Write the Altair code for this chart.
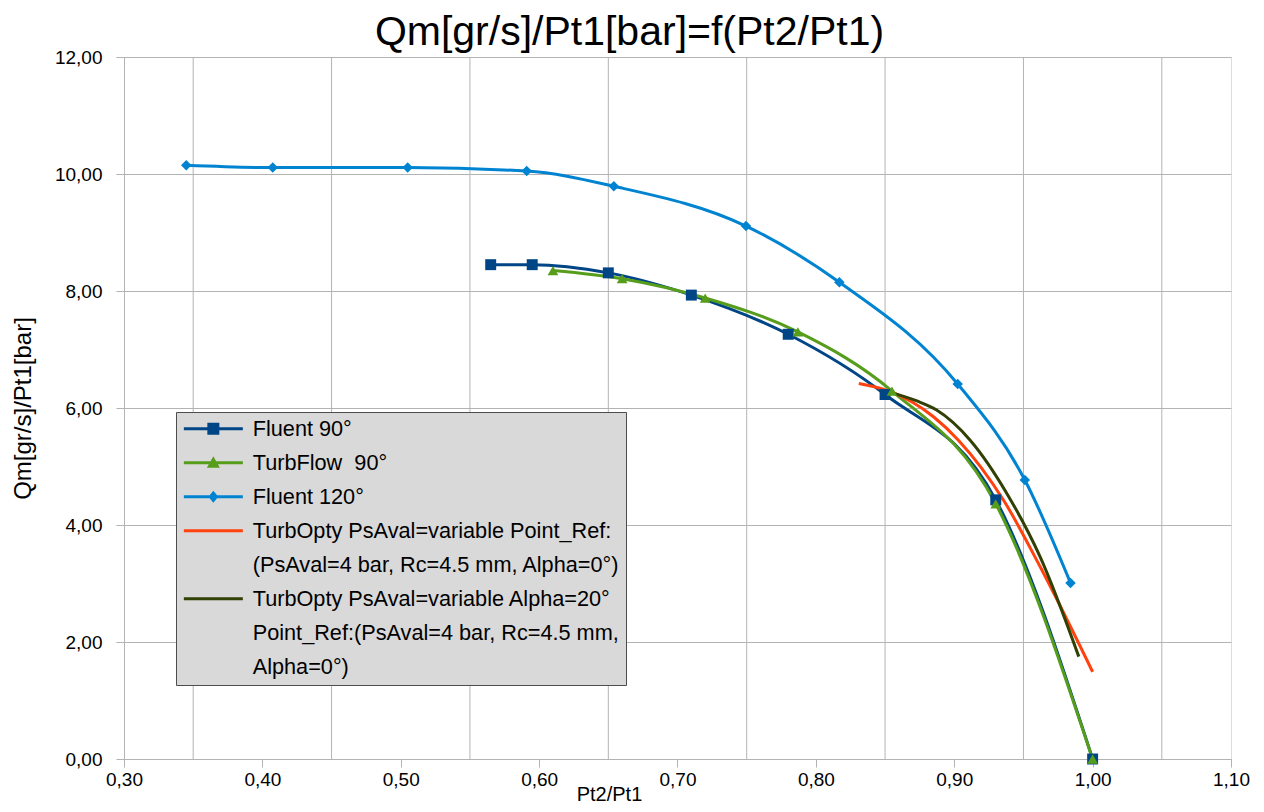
import altair as alt
import pandas as pd

FONT = "Liberation Sans"

# ---- series names (legend text) ----
S1 = "Fluent 90°"
S2 = "TurbFlow\u00a0 90°"
S3 = "Fluent 120°"
S4 = "TurbOpty PsAval=variable Point_Ref:"
S4b = "(PsAval=4 bar, Rc=4.5 mm, Alpha=0°)"
S5 = "TurbOpty PsAval=variable Alpha=20°"
S5b = "Point_Ref:(PsAval=4 bar, Rc=4.5 mm,"
S5c = "Alpha=0°)"

# ---- data ----
fluent90_x = [0.565, 0.595, 0.650, 0.710, 0.780, 0.850, 0.930, 1.000]
fluent90_y = [8.45, 8.45, 8.31, 7.93, 7.26, 6.23, 4.43, 0.00]

turbflow90_x = [0.610, 0.660, 0.720, 0.787, 0.855, 0.930, 1.000]
turbflow90_y = [8.35, 8.21, 7.88, 7.30, 6.29, 4.36, 0.00]

fluent120_x = [0.345, 0.4075, 0.505, 0.591, 0.654, 0.7495, 0.817, 0.9025, 0.951, 0.984]
fluent120_y = [10.15, 10.11, 10.11, 10.05, 9.79, 9.11, 8.15, 6.41, 4.77, 3.01]

turbopty_x = [0.831, 0.854, 0.885, 0.903, 0.936, 0.962, 1.000]
turbopty_y = [6.42, 6.28, 5.85, 5.45, 4.41, 3.29, 1.49]

turbopty20_x = [0.852, 0.873, 0.887, 0.9115, 0.938, 0.962, 0.990]
turbopty20_y = [6.28, 6.12, 5.97, 5.45, 4.54, 3.46, 1.75]

x_ticks = [0.3, 0.4, 0.5, 0.6, 0.7, 0.8, 0.9, 1.0, 1.1]
x_grid = [0.35, 0.45, 0.55, 0.65, 0.75, 0.85, 0.95, 1.05]
y_ticks = [0, 2, 4, 6, 8, 10, 12]

series = [
    (S1, fluent90_x, fluent90_y),
    (S2, turbflow90_x, turbflow90_y),
    (S3, fluent120_x, fluent120_y),
    (S4, turbopty_x, turbopty_y),
    (S5, turbopty20_x, turbopty20_y),
]
rows = []
for name, xs, ys in series:
    for a, b in zip(xs, ys):
        rows.append({"x": a, "y": b, "series": name})
df = pd.DataFrame(rows)
marker_df = df[df["series"].isin([S1, S2, S3])]
grid_df = pd.DataFrame({"g": x_grid})

line_domain = [S1, S2, S3, S4, S5]
line_colors = ["#004586", "#579d1c", "#0084d1", "#ff420e", "#314004"]

mk_domain = [S1, S2, S3]
mk_colors = ["#004586", "#579d1c", "#0084d1"]

# legend symbols: line + marker as custom paths
LINE = "M-0.9,-0.15L5.0,-0.15L5.0,0.15L-0.9,0.15Z"
SQ = "M1.45,-0.6L2.65,-0.6L2.65,0.6L1.45,0.6Z"
TRI = "M2.05,-0.65L2.7,0.5L1.4,0.5Z"
DIA = "M2.05,-0.6L2.55,0L2.05,0.6L1.55,0Z"
legend_domain = [S1, S2, S3, S4, S4b, S5, S5b, S5c]
legend_colors = ["#004586", "#579d1c", "#0084d1", "#ff420e", "transparent",
                 "#314004", "transparent", "transparent"]
legend_shapes = [LINE + SQ, LINE + TRI, LINE + DIA, LINE, LINE, LINE, LINE, LINE]

fmt = "replace(format(datum.value, '.2f'), '.', ',')"
GRAY = "#b3b3b3"

x_scale = alt.Scale(domain=[0.3, 1.1], nice=False, zero=False)
y_scale = alt.Scale(domain=[0, 12], nice=False, zero=False)

x_axis = alt.Axis(values=x_ticks, grid=False, labelExpr=fmt, title="Pt2/Pt1",
                  tickSize=8, tickColor=GRAY, domainColor=GRAY,
                  labelFont=FONT, labelFontSize=19, labelColor="black", labelPadding=3,
                  labelFlush=False, labelOverlap=False,
                  titleFont=FONT, titleFontSize=20, titleFontWeight="normal",
                  titleColor="black", titleX=485, titleY=35, titleBaseline="middle",
                  titleAlign="center")
y_axis = alt.Axis(values=y_ticks, grid=True, gridColor=GRAY, labelExpr=fmt,
                  title="Qm[gr/s]/Pt1[bar]", tickSize=8, tickColor=GRAY, domainColor=GRAY,
                  labelFont=FONT, labelFontSize=19, labelColor="black", labelPadding=14,
                  labelFlush=False, labelOverlap=False,
                  titleFont=FONT, titleFontSize=24, titleFontWeight="normal",
                  titleColor="black", titleX=-101, titleY=351, titleAngle=270,
                  titleBaseline="middle", titleAlign="center")

grid = alt.Chart(grid_df).mark_rule(color=GRAY, strokeWidth=1).encode(
    x=alt.X("g:Q", scale=x_scale, axis=x_axis)
)

lines = alt.Chart(df).mark_line(interpolate="monotone", strokeWidth=3).encode(
    x=alt.X("x:Q", scale=x_scale, axis=x_axis),
    y=alt.Y("y:Q", scale=y_scale, axis=y_axis),
    color=alt.Color("series:N", scale=alt.Scale(domain=line_domain, range=line_colors),
                    legend=None),
)

pts = alt.Chart(marker_df).mark_point(filled=True, opacity=1).encode(
    x=alt.X("x:Q", scale=x_scale, axis=x_axis),
    y=alt.Y("y:Q", scale=y_scale, axis=y_axis),
    color=alt.Color("series:N", scale=alt.Scale(domain=mk_domain, range=mk_colors),
                    legend=None),
    shape=alt.Shape("series:N", scale=alt.Scale(domain=mk_domain,
                                                range=["square", "triangle-up", "diamond"]),
                    legend=None),
    size=alt.Size("series:N", scale=alt.Scale(domain=mk_domain, range=[120, 110, 80]),
                  legend=None),
)

leg_params = dict(title=None, orient="none", legendX=52, legendY=355,
                  fillColor="#d9d9d9", strokeColor="#4d4d4d", padding=6,
                  symbolSize=400, symbolStrokeWidth=0, symbolOpacity=1,
                  labelFont=FONT, labelFontSize=21.7, labelColor="black",
                  labelLimit=800, labelOffset=49, rowPadding=11.0)

leg = alt.Chart(df).mark_point(filled=True, opacity=0, size=400).encode(
    x=alt.X("x:Q", scale=x_scale, axis=x_axis),
    y=alt.Y("y:Q", scale=y_scale, axis=y_axis),
    color=alt.Color("series:N", scale=alt.Scale(domain=legend_domain, range=legend_colors),
                    legend=alt.Legend(**leg_params)),
    shape=alt.Shape("series:N", scale=alt.Scale(domain=legend_domain, range=legend_shapes),
                    legend=alt.Legend(**leg_params)),
)

chart = (
    alt.layer(grid, lines, pts, leg)
    .resolve_scale(color="independent", shape="independent", size="independent")
    .properties(
        width=1107, height=702,
        padding={"left": 116, "top": 49, "right": 25, "bottom": 45},
        autosize=alt.AutoSizeParams(type="none"),
        title=alt.TitleParams(text="Qm[gr/s]/Pt1[bar]=f(Pt2/Pt1)", font=FONT, fontSize=41,
                              fontWeight="normal", color="black", anchor="middle",
                              frame="group", dx=-48, dy=10, offset=4),
    )
    .configure_view(stroke=GRAY, strokeWidth=1)
    .configure(background="white")
)

chart.save("out.html", embed_options={"renderer": "svg", "actions": False})
